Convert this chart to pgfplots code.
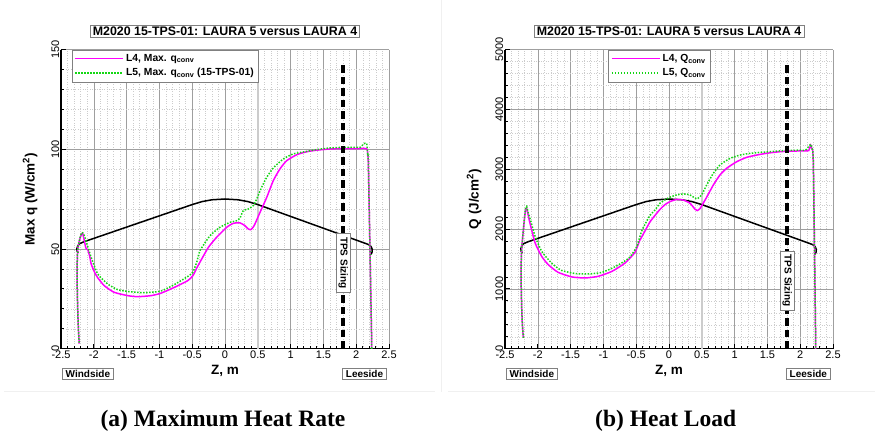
\documentclass[border=0pt]{standalone}
\usepackage{fontspec}
\setmainfont{Liberation Sans}
\newfontfamily\capfont{Liberation Serif}
\usepackage{pgfplots}
\pgfplotsset{compat=1.18}
\definecolor{mag}{RGB}{255,0,255}
\definecolor{grn}{RGB}{20,215,20}
\tikzset{
 L4/.style={mag, line width=1.5pt},
 L5/.style={grn, line width=1.5pt, dash pattern=on 1.5pt off 1.5pt},
 geom/.style={black, line width=1.5pt},
 boxlab/.style={draw=gray, fill=white, font=\bfseries\fontsize{10}{11}\selectfont, inner xsep=3.5pt, inner ysep=2pt},
 titlebox/.style={draw=gray, fill=white, font=\bfseries\fontsize{12.4}{13}\selectfont, inner xsep=2.5pt, inner ysep=2pt},
 tpsline/.style={black, line width=3.5pt, dash pattern=on 7.5pt off 4pt},
 midline/.style={gray!40, line width=1.5pt},
}
\pgfplotsset{
 myaxis/.style={
  width=328pt, height=299pt, scale only axis, anchor=south west,
  xmin=-2.5, xmax=2.5,
  xtick={-2.5,-2,-1.5,-1,-0.5,0,0.5,1,1.5,2,2.5},
  xticklabels={-2.5,-2,-1.5,-1,-0.5,0,0.5,1,1.5,2,2.5},
  minor x tick num=4, minor y tick num=4,
  grid=both,
  major grid style={draw=gray!75, line width=0.5pt},
  minor grid style={draw=gray!40, dotted, line width=0.45pt},
  axis x line*=bottom, axis y line*=left,
  axis line style={-, black, line width=1.6pt},
  tick align=inside,
  major tick length=5pt, minor tick length=2.5pt,
  tick style={black, line width=0.8pt},
  tick label style={font=\fontsize{11}{12}\selectfont},
  xticklabel style={inner sep=2pt, anchor=north},
  yticklabel style={rotate=90, anchor=south, inner sep=1.5pt},
  every axis x label/.style={at={(axis description cs:0.5,-0.0736)}, anchor=center, font=\bfseries\fontsize{13.5}{14}\selectfont},
  every axis y label/.style={at={(axis description cs:-0.0945,0.5)}, anchor=center, rotate=90, font=\bfseries\fontsize{13.5}{14}\selectfont},
  legend cell align=left,
  legend image code/.code={\draw[##1] (0pt,0pt) -- (48pt,0pt);},
  legend style={anchor=north west, draw=gray, font=\bfseries\fontsize{10.3}{12}\selectfont, row sep=1.5pt, inner sep=2.5pt},
  clip mode=individual,
 },
}
\begin{document}
\begin{tikzpicture}
\useasboundingbox (0,0) rectangle (875pt,433pt);
\draw[gray!12, line width=0.6pt] (4pt,41.3pt) -- (435pt,41.3pt);
\draw[gray!12, line width=0.6pt] (448pt,41.3pt) -- (875pt,41.3pt);
\draw[gray!12, line width=0.6pt] (441.7pt,41.3pt) -- (441.7pt,433pt);
% ---------------- (a) ----------------
\begin{axis}[myaxis, at={(61pt,84.3pt)},
  ymin=0, ymax=150, ytick={0,50,100,150}, yticklabels={0,50,100,150},
  xlabel={Z, m}, ylabel={Max q (W/cm\textsuperscript{2})},
  legend style={at={(axis description cs:0.0335,1)}},
]
\addplot[midline, forget plot] coordinates {(0.5,0) (0.5,150)};
\addplot[geom, forget plot, smooth, tension=0.3] coordinates {
(-2.236,48.1) (-2.255,49) (-2.258,50.2) (-2.245,51.5) (-2.221,52.6) (-2.145,53.7)};
\addplot[geom, forget plot] coordinates {
(-2.145,53.7) (-0.5,72.3) (-0.35,73.8) (-0.2,74.7) (0,75.1) (0.2,74.7) (0.35,73.8) (0.5,72.3) (2.185,52.3)};
\addplot[geom, forget plot, smooth, tension=0.3] coordinates {
(2.185,52.3) (2.225,51.3) (2.245,49.8) (2.24,48.2) (2.22,47.3)};
\addplot[L4, smooth, tension=0.35] coordinates {
(-2.222,2.5) (-2.235,10) (-2.246,20.7) (-2.256,37.5) (-2.246,49.2) (-2.22,54.2) (-2.19,57.2) (-2.17,57.9) (-2.15,55) (-2.12,50.5) (-2.09,49.5) (-2.06,46) (-2.04,42.5) (-1.99,38.5) (-1.94,35.6) (-1.84,31.6) (-1.69,28.3) (-1.48,26.6) (-1.33,26.1) (-1.13,26.6) (-0.98,27.8) (-0.77,30.8) (-0.57,34.1) (-0.49,36.6) (-0.43,40.5) (-0.355,45.0) (-0.25,51) (-0.127,55.9) (0.026,60.9) (0.127,62.9) (0.229,63.1) (0.305,61.7) (0.35,60.2) (0.392,59.7) (0.43,61) (0.457,62.6) (0.534,68.4) (0.636,75.9) (0.736,84.3) (0.838,90.2) (0.94,94.3) (1.093,97.3) (1.245,98.8) (1.4,99.6) (1.6,100.2) (1.8,100.4) (2.0,100.4) (2.16,100.3) (2.175,97) (2.185,92.7) (2.21,50) (2.236,3) (2.232,0)};
\addlegendentry{L4, Max. q\textsubscript{conv}}
\addplot[L5, smooth, tension=0.35] coordinates {
(-2.222,3) (-2.235,10) (-2.246,20.7) (-2.256,37.5) (-2.246,49.2) (-2.215,55) (-2.185,58.3) (-2.165,58) (-2.14,56.5) (-2.12,54.2) (-2.04,45.8) (-1.94,37.5) (-1.79,32.5) (-1.64,29.7) (-1.48,28.7) (-1.23,28.1) (-0.98,28.9) (-0.77,32.2) (-0.57,36.2) (-0.49,38.4) (-0.43,43.5) (-0.381,49.2) (-0.228,56.7) (-0.076,60.9) (0.077,63.4) (0.178,64.2) (0.229,65.6) (0.279,69.3) (0.356,70.1) (0.432,71.8) (0.483,75.1) (0.559,81.0) (0.636,86.0) (0.737,90.7) (0.889,95.2) (1.04,97.7) (1.245,99.0) (1.4,99.9) (1.6,100.7) (1.8,101) (2.0,101) (2.06,101) (2.11,102.6) (2.16,103) (2.175,97) (2.185,92.7) (2.236,3) (2.232,0)};
\addlegendentry{L5, Max. q\textsubscript{conv} (15-TPS-01)}
\addplot[tpsline, forget plot] coordinates {(1.8,0) (1.8,144)};
\node[boxlab, rotate=-90] at (axis cs:1.8,43) {TPS Sizing};
\node[boxlab] at (axis cs:-2.09,-12.54) {Windside};
\node[boxlab] at (axis cs:2.127,-12.54) {Leeside};
\node[titlebox] at (axis description cs:0.5,1.062) {M2020 15-TPS-01: LAURA 5 versus LAURA 4};
\end{axis}
% ---------------- (b) ----------------
\begin{axis}[myaxis, at={(505pt,84.3pt)},
  ymin=0, ymax=5000, ytick={0,1000,2000,3000,4000,5000}, yticklabels={0,1000,2000,3000,4000,5000},
  xlabel={Z, m}, ylabel={Q (J/cm\textsuperscript{2})},
  legend style={at={(axis description cs:0.315,1)}},
]
\addplot[midline, forget plot] coordinates {(0.5,0) (0.5,5000)};
\addplot[geom, forget plot, smooth, tension=0.3] coordinates {
(-2.236,1603) (-2.255,1633) (-2.258,1673) (-2.245,1717) (-2.221,1753) (-2.145,1790)};
\addplot[geom, forget plot] coordinates {
(-2.145,1790) (-0.5,2410) (-0.35,2460) (-0.2,2490) (0,2503) (0.2,2490) (0.35,2460) (0.5,2410) (2.185,1743)};
\addplot[geom, forget plot, smooth, tension=0.3] coordinates {
(2.185,1743) (2.225,1710) (2.245,1660) (2.24,1607) (2.22,1577)};
\addplot[L4, smooth, tension=0.35] coordinates {
(-2.22,180) (-2.235,400) (-2.246,710) (-2.256,1265) (-2.246,1655) (-2.22,1988) (-2.19,2300) (-2.17,2350) (-2.15,2250) (-2.12,2100) (-2.04,1767) (-1.94,1543) (-1.84,1405) (-1.69,1277) (-1.48,1200) (-1.28,1183) (-1.08,1210) (-0.87,1293) (-0.67,1433) (-0.52,1610) (-0.45,1800) (-0.37,1960) (-0.29,2120) (-0.213,2230) (-0.137,2330) (-0.06,2410) (0.015,2460) (0.117,2495) (0.218,2485) (0.32,2433) (0.396,2333) (0.43,2310) (0.47,2340) (0.498,2388) (0.574,2533) (0.676,2738) (0.777,2905) (0.879,3017) (1.032,3127) (1.184,3200) (1.337,3238) (1.5,3270) (1.7,3295) (1.9,3305) (2.1,3308) (2.13,3312) (2.16,3405) (2.175,3350) (2.2,3100) (2.236,100) (2.232,0)};
\addlegendentry{L4, Q\textsubscript{conv}}
\addplot[L5, smooth, tension=0.35] coordinates {
(-2.22,180) (-2.235,400) (-2.246,710) (-2.256,1265) (-2.246,1655) (-2.215,2050) (-2.19,2330) (-2.17,2380) (-2.15,2290) (-2.12,2183) (-2.04,1877) (-1.94,1627) (-1.79,1433) (-1.64,1310) (-1.42,1255) (-1.22,1250) (-1.02,1277) (-0.81,1377) (-0.61,1517) (-0.49,1710) (-0.42,1960) (-0.366,2080) (-0.29,2230) (-0.213,2320) (-0.137,2433) (-0.06,2490) (0.015,2533) (0.117,2572) (0.218,2588) (0.32,2572) (0.396,2517) (0.43,2505) (0.498,2572) (0.574,2738) (0.676,2933) (0.777,3072) (0.93,3183) (1.083,3238) (1.235,3267) (1.388,3283) (1.6,3300) (1.8,3315) (2.0,3320) (2.08,3320) (2.16,3417) (2.175,3350) (2.2,3100) (2.236,100) (2.232,0)};
\addlegendentry{L5, Q\textsubscript{conv}}
\addplot[tpsline, forget plot] coordinates {(1.8,0) (1.8,4800)};
\node[boxlab, rotate=-90] at (axis cs:1.8,1138) {TPS Sizing};
\node[boxlab] at (axis cs:-2.09,-418) {Windside};
\node[boxlab] at (axis cs:2.124,-418) {Leeside};
\node[titlebox] at (axis description cs:0.5,1.062) {M2020 15-TPS-01: LAURA 5 versus LAURA 4};
\end{axis}
\node[anchor=base, font=\capfont\bfseries\fontsize{23.5}{24}\selectfont] at (223pt,6.3pt) {(a) Maximum Heat Rate};
\node[anchor=base, font=\capfont\bfseries\fontsize{23.5}{24}\selectfont] at (665.7pt,6.3pt) {(b) Heat Load};
\end{tikzpicture}
\end{document}
